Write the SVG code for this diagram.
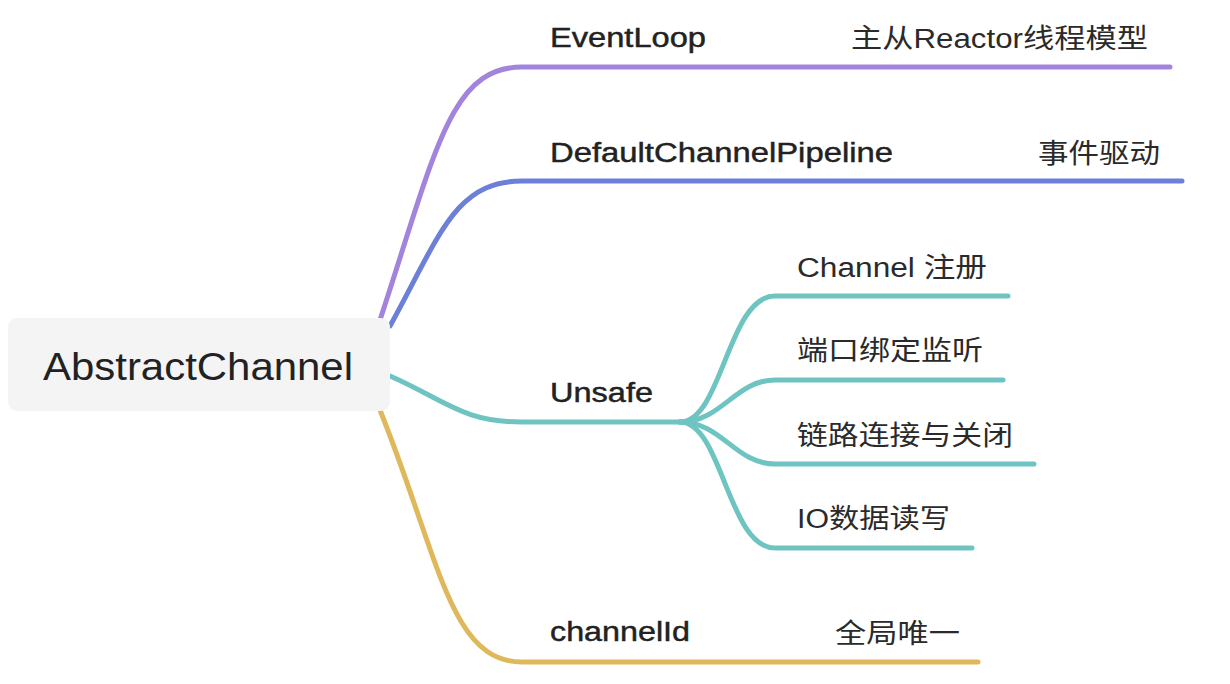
<svg xmlns="http://www.w3.org/2000/svg" width="1230" height="684" viewBox="0 0 1230 684">
<style>
.t{font-family:"Liberation Sans","Noto Sans CJK SC",sans-serif;fill:#222;}
.m{font-size:27px;stroke:#222;stroke-width:0.45px;}
.s{font-size:27px;fill:#2a2a2a;}
.c{fill:none;stroke-width:5;stroke-linecap:round;stroke-linejoin:round;}
.p{stroke:#a384dc;}
.b{stroke:#6b80d6;}
.g{stroke:#6ec4c1;}
.y{stroke:#dfb85c;}
</style>
<rect width="1230" height="684" fill="#ffffff"/>
<g id="connectors">
<path class="c p" d="M380,320 C436,150 450,67 522,67 L1170,67"/>
<path class="c b" d="M390,326 C440,235 455,181 522,181 L1182,181"/>
<path class="c g" d="M390,376 C445,400 462,422 522,422 L680,422"/>
<path class="c y" d="M380,410 C440,560 450,662 522,662 L978,662"/>
<path class="c g" d="M680,422 C722,422 728,296 775,296 L1008,296"/>
<path class="c g" d="M680,422 C722,422 735,380 775,380 L1003,380"/>
<path class="c g" d="M680,422 C722,422 735,464 775,464 L1034,464"/>
<path class="c g" d="M680,422 C722,422 728,548 775,548 L972,548"/>
</g>
<g id="root">
<rect x="8" y="318" width="382" height="93" rx="9" fill="#f4f4f4"/>
<text class="t" x="43" y="380" font-size="38" textLength="310" lengthAdjust="spacingAndGlyphs">AbstractChannel</text>
</g>
<g id="eventloop">
<text class="t m" x="550" y="47" textLength="156" lengthAdjust="spacingAndGlyphs">EventLoop</text>
<text class="t s" x="851" y="48" textLength="297" lengthAdjust="spacingAndGlyphs">主从Reactor线程模型</text>
</g>
<g id="pipeline">
<text class="t m" x="550" y="162" textLength="343" lengthAdjust="spacingAndGlyphs">DefaultChannelPipeline</text>
<text class="t s" x="1038" y="163" textLength="122" lengthAdjust="spacingAndGlyphs">事件驱动</text>
</g>
<g id="unsafe">
<text class="t m" x="550" y="402" textLength="103" lengthAdjust="spacingAndGlyphs">Unsafe</text>
</g>
<g id="register">
<text class="t s" x="797" y="277" textLength="190" lengthAdjust="spacingAndGlyphs">Channel 注册</text>
</g>
<g id="bind">
<text class="t s" x="797" y="360" textLength="186" lengthAdjust="spacingAndGlyphs">端口绑定监听</text>
</g>
<g id="connect">
<text class="t s" x="797" y="445" textLength="216" lengthAdjust="spacingAndGlyphs">链路连接与关闭</text>
</g>
<g id="io">
<text class="t s" x="797" y="528" textLength="153" lengthAdjust="spacingAndGlyphs">IO数据读写</text>
</g>
<g id="channelid">
<text class="t m" x="550" y="641" textLength="140" lengthAdjust="spacingAndGlyphs">channelId</text>
<text class="t s" x="835" y="643" textLength="125" lengthAdjust="spacingAndGlyphs">全局唯一</text>
</g>
</svg>
